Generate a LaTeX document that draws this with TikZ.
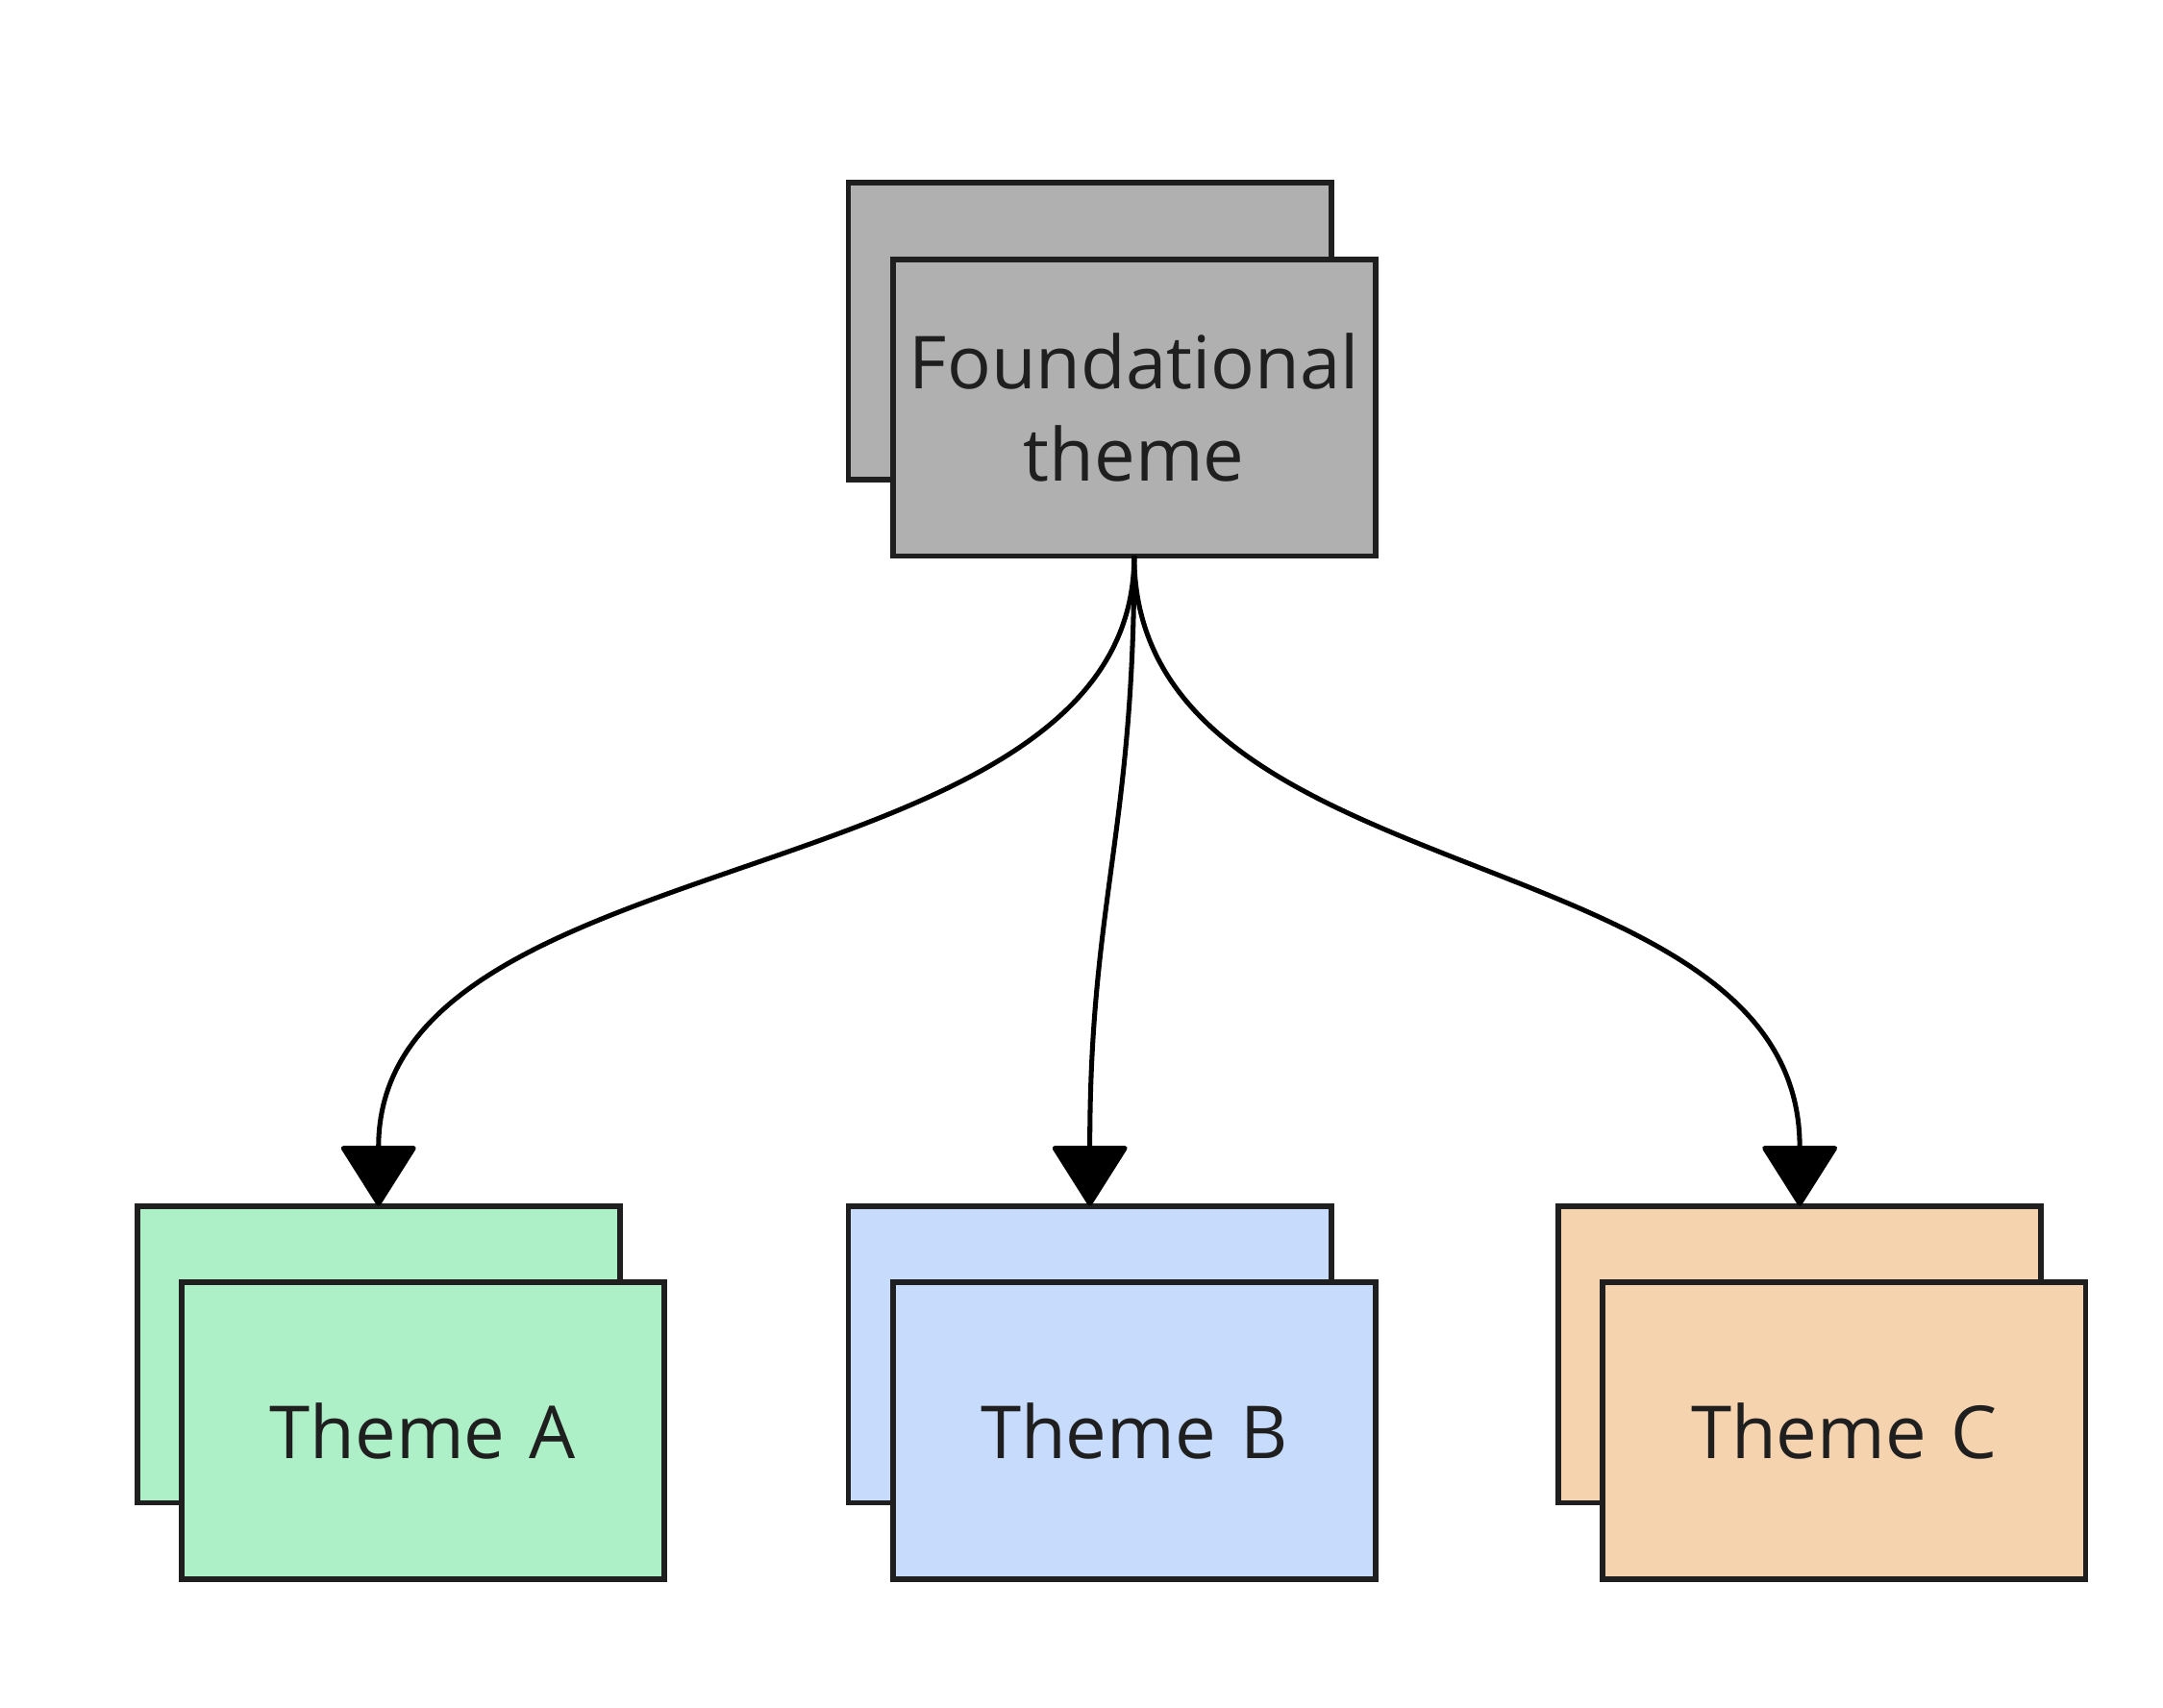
\documentclass[tikz,border=0pt]{standalone}
\usepackage{fontspec}
\setmainfont{Open Sans}
\usetikzlibrary{arrows.meta}
\definecolor{edgegray}{HTML}{1F1F1F}
\definecolor{fndfill}{HTML}{B0B0B0}
\definecolor{afill}{HTML}{ADF0C8}
\definecolor{bfill}{HTML}{C7DBFC}
\definecolor{cfill}{HTML}{F6D3AF}
\tikzstyle{theme} = [draw=edgegray, line width=0.04cm, rectangle,
  minimum width=3.48cm, minimum height=2.14cm, text width=3.3cm,
  inner sep=0pt, outer sep=0pt,
  font=\fontsize{15}{19}\selectfont, text=edgegray, align=center]
\tikzstyle{link} = [line width=0.035cm, draw=black, line join=round,
  -{Triangle[length=0.45cm, width=0.56cm, round]}]

\begin{document}
\begin{tikzpicture}[x=0.01cm, y=-0.01cm]
        \useasboundingbox (0,0) rectangle (1560,1232);
        \node [theme, fill=fndfill] (fndback)  at ( 786, 239) {};
        \node [theme, fill=fndfill] (fnd)      at ( 818, 294) {Foundational\\theme};
        \node [theme, fill=afill]   (themeAback) at ( 273, 977) {};
        \node [theme, fill=afill]   (themeA)     at ( 305, 1032) {Theme A};
        \node [theme, fill=bfill]   (themeBback) at ( 786, 977) {};
        \node [theme, fill=bfill]   (themeB)     at ( 818, 1032) {Theme B};
        \node [theme, fill=cfill]   (themeCback) at (1298, 977) {};
        \node [theme, fill=cfill]   (themeC)     at (1330, 1032) {Theme C};

        \draw[link] (fnd.south) .. controls (818,650) and (273,600) .. (themeAback.north);
        \draw[link] (fnd.south) .. controls (818,600) and (786,650) .. (themeBback.north);
        \draw[link] (fnd.south) .. controls (818,650) and (1298,600) .. (themeCback.north);
      \end{tikzpicture}
\end{document}
